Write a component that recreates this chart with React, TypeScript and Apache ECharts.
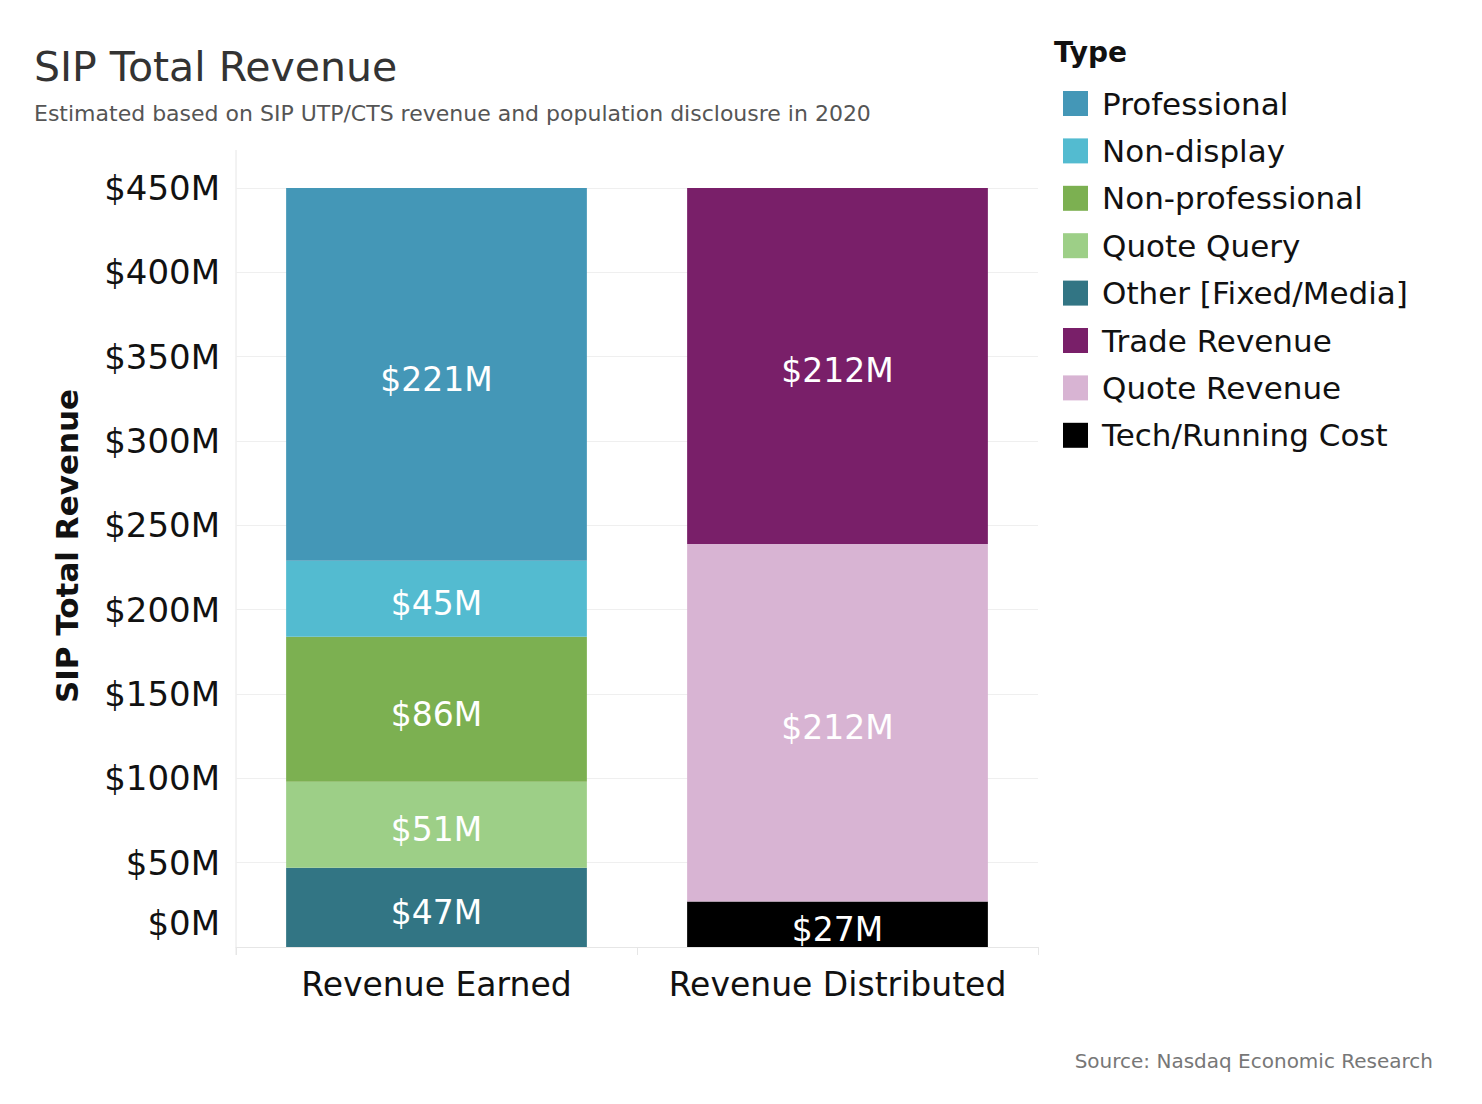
import React, { useEffect, useRef } from "react";
import * as echarts from "echarts";

const categories = ["Revenue Earned", "Revenue Distributed"];
const seriesNames = [
  "Other [Fixed/Media]",
  "Quote Query",
  "Non-professional",
  "Non-display",
  "Professional",
  "Tech/Running Cost",
  "Quote Revenue",
  "Trade Revenue",
];
const seriesValues: (number | null)[][] = [
  [47, null],
  [51, null],
  [86, null],
  [45, null],
  [221, null],
  [null, 27],
  [null, 212],
  [null, 212],
];
const seriesColors = [
  "#327584",
  "#9dcf87",
  "#7cb051",
  "#53bbd0",
  "#4497b7",
  "#000000",
  "#d8b4d3",
  "#791f69",
];
const legendOrder = [
  "Professional",
  "Non-display",
  "Non-professional",
  "Quote Query",
  "Other [Fixed/Media]",
  "Trade Revenue",
  "Quote Revenue",
  "Tech/Running Cost",
];
const yTicks = [0, 50, 100, 150, 200, 250, 300, 350, 400, 450];

const FONT = "'DejaVu Sans', 'Open Sans', sans-serif";

export default function App() {
  const ref = useRef<HTMLDivElement>(null);
  useEffect(() => {
    if (!ref.current) return;
    const chart = echarts.init(ref.current, undefined, { renderer: "svg" });
    const option: any = {
      animation: false,
      backgroundColor: "#ffffff",
      textStyle: { fontFamily: FONT },
      title: [
        {
          text: "SIP Total Revenue",
          subtext: "Estimated based on SIP UTP/CTS revenue and population disclousre in 2020",
          left: 29,
          top: 41,
          itemGap: 15,
          textStyle: { fontFamily: FONT, fontSize: 41, fontWeight: "normal", color: "#333333" },
          subtextStyle: { fontFamily: FONT, fontSize: 22, color: "#555555" },
        },
        {
          text: "Source: Nasdaq Economic Research",
          right: 44,
          top: 1046,
          textStyle: { fontFamily: FONT, fontSize: 20, fontWeight: "normal", color: "#777777" },
        },
      ],
      legend: {
        data: legendOrder,
        orient: "vertical",
        left: 1058,
        top: 83,
        itemWidth: 25,
        itemHeight: 25,
        itemGap: 16.4,
        icon: "rect",
        textStyle: { fontFamily: FONT, fontSize: 31, color: "#111111", padding: [0, 0, 0, 9] },
      },
      graphic: [
        {
          type: "text",
          left: 1054,
          top: 38,
          style: { text: "Type", font: `bold 28px ${FONT}`, fill: "#111111" },
        },
        {
          type: "text",
          x: 67,
          y: 546,
          rotation: Math.PI / 2,
          style: {
            text: "SIP Total Revenue",
            font: `bold 31px ${FONT}`,
            fill: "#111111",
            align: "center",
            verticalAlign: "middle",
          },
        },
        {
          type: "line",
          shape: { x1: 236, y1: 150, x2: 236, y2: 955 },
          style: { stroke: "#e6e6e6", lineWidth: 1 },
        },
      ],
      grid: { left: 236, right: 444, top: 188, bottom: 157, containLabel: false },
      xAxis: {
        type: "category",
        data: categories,
        axisLine: { show: true, lineStyle: { color: "#e6e6e6" } },
        axisTick: { show: true, length: 8, lineStyle: { color: "#e6e6e6" } },
        axisLabel: { fontFamily: FONT, fontSize: 33, color: "#111111", margin: 21, interval: 0, hideOverlap: false },
      },
      yAxis: {
        type: "value",
        min: 0,
        max: 450,
        interval: 50,
        axisLine: { show: false },
        axisTick: { show: false },
        splitLine: { show: true, lineStyle: { color: "#efefef" } },
        axisLabel: {
          fontFamily: FONT,
          fontSize: 34,
          color: "#111111",
          margin: 16,
          formatter: (v: number) => (v === yTicks[0] ? `{z|$${v}M}` : `$${v}M`),
          rich: {
            z: { fontFamily: FONT, fontSize: 34, color: "#111111", padding: [0, 0, 48, 0] },
          },
        },
      },
      series: seriesNames.map((name, i) => ({
        name,
        type: "bar",
        stack: "total",
        barWidth: "75%",
        data: seriesValues[i],
        itemStyle: { color: seriesColors[i] },
        label: {
          show: true,
          position: "inside",
          offset: [0, 5],
          fontFamily: FONT,
          fontSize: 33,
          color: "#ffffff",
          formatter: (p: any) => (p.value == null ? "" : `$${p.value}M`),
        },
      })),
    };
    chart.setOption(option);
    return () => chart.dispose();
  }, []);
  return (
    <div
      ref={ref}
      style={{ position: "absolute", left: 0, top: 0, width: 1482, height: 1104 }}
    />
  );
}
